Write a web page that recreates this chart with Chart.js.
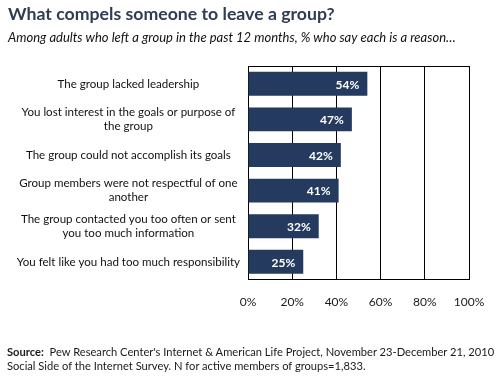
<!DOCTYPE html>
<html>
<head>
<meta charset="utf-8">
<script src="https://cdn.jsdelivr.net/npm/chart.js@4/dist/chart.umd.min.js"></script>
<style>
  html, body { margin: 0; padding: 0; background: #fff; }
  #wrap { position: relative; width: 501px; height: 377px; }
  #source {
    position: absolute; left: 7px; top: 345px;
    font-family: Lato, sans-serif; font-size: 11.15px; line-height: 14px;
    color: #1a1a1a; white-space: nowrap;
  }
</style>
</head>
<body>
<div id="wrap">
  <canvas id="groupChart" width="501" height="377"></canvas>
  <div id="source"><b>Source:</b>&nbsp; Pew Research Center's Internet &amp; American Life Project, November 23-December 21, 2010<br>Social Side of the Internet Survey. N for active members of groups=1,833.</div>
</div>
<script>
// Define the data
var reasons = [
    "The group lacked leadership",
    ["You lost interest in the goals or purpose of", "the group"],
    "The group could not accomplish its goals",
    ["Group members were not respectful of one", "another"],
    ["The group contacted you too often or sent", "you too much information"],
    "You felt like you had too much responsibility"
];
var sharePercent = [54, 47, 42, 41, 32, 25];
var xTicks = [0, 20, 40, 60, 80, 100];
// End defining data

var barColor = '#243a5e';

// white % labels at the end of each bar
var valueLabels = {
    id: 'valueLabels',
    afterDatasetsDraw: function (chart) {
        var ctx = chart.ctx;
        var meta = chart.getDatasetMeta(0);
        ctx.save();
        ctx.fillStyle = '#fff';
        ctx.font = 'bold 12px Lato';
        ctx.textAlign = 'right';
        ctx.textBaseline = 'middle';
        meta.data.forEach(function (bar, i) {
            ctx.fillText(sharePercent[i] + '%', bar.x - 8, bar.y + 1);
        });
        ctx.restore();
    }
};

// black line along the top of the plot
var plotFrame = {
    id: 'plotFrame',
    afterDraw: function (chart) {
        var a = chart.chartArea;
        var ctx = chart.ctx;
        ctx.save();
        ctx.strokeStyle = '#000';
        ctx.lineWidth = 1;
        ctx.beginPath();
        ctx.moveTo(Math.round(a.left) + 0.5, Math.round(a.top) + 0.5);
        ctx.lineTo(Math.round(a.right) + 0.5, Math.round(a.top) + 0.5);
        ctx.stroke();
        ctx.restore();
    }
};

var ctx = document.getElementById('groupChart').getContext('2d');
var groupChart = new Chart(ctx, {
    type: 'bar',
    data: {
        labels: reasons,
        datasets: [{
            data: sharePercent,
            backgroundColor: barColor,
            borderWidth: 0,
            barPercentage: 0.67,
            categoryPercentage: 1
        }]
    },
    options: {
        indexAxis: 'y',
        responsive: false,
        animation: false,
        layout: { padding: { left: 8, right: 32, top: 0, bottom: 53 } },
        plugins: {
            legend: { display: false },
            tooltip: { enabled: false },
            title: {
                display: true,
                text: 'What compels someone to leave a group?',
                align: 'start',
                color: '#2e3d52',
                font: { family: 'Lato', size: 17.7, weight: 'bold', lineHeight: '23px' },
                padding: { top: 3, bottom: 3 }
            },
            subtitle: {
                display: true,
                text: 'Among adults who left a group in the past 12 months, % who say each is a reason\u2026',
                align: 'start',
                color: '#111',
                font: { family: 'Lato', size: 13, style: 'italic', lineHeight: '15px' },
                padding: { top: 1, bottom: 21 }
            }
        },
        scales: {
            x: {
                min: 0,
                max: 100,
                afterBuildTicks: function (scale) {
                    scale.ticks = xTicks.map(function (v) { return { value: v }; });
                },
                grid: { color: '#000', lineWidth: 1, drawTicks: false },
                border: { color: '#000', width: 1 },
                ticks: {
                    padding: 15,
                    color: '#1a1a1a',
                    font: { family: 'Lato', size: 12 },
                    callback: function (v) { return v + '%'; }
                }
            },
            y: {
                grid: { display: false, drawTicks: false },
                border: { color: '#000', width: 1 },
                afterFit: function (scale) { scale.width = 240; },
                ticks: {
                    crossAlign: 'center',
                    padding: 8,
                    color: '#111',
                    font: { family: 'Lato', size: 11.55, lineHeight: '14px' }
                }
            }
        }
    },
    plugins: [valueLabels, plotFrame]
});
</script>
</body>
</html>
